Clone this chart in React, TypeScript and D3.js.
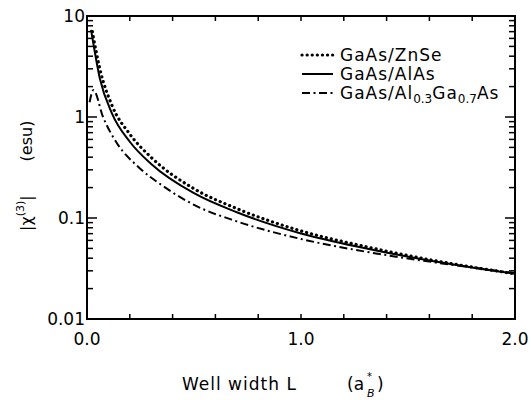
import React, { useEffect, useRef } from 'react'
import * as d3 from 'd3'

// curve readings: well width L (a_B*) vs |chi(3)| (esu)
const znseL = [0.025, 0.06, 0.117, 0.2, 0.3, 0.5, 0.7, 1.0, 1.3, 1.6, 2.0]
const znseV = [7.0, 3.0, 1.3, 0.677, 0.398, 0.195, 0.124, 0.0745, 0.0522, 0.0387, 0.028]

const alasL = [0.019, 0.06, 0.117, 0.2, 0.3, 0.5, 0.7, 1.0, 1.3, 1.6, 2.0]
const alasV = [7.3, 2.41, 1.08, 0.569, 0.343, 0.176, 0.114, 0.0703, 0.0502, 0.0379, 0.028]

const algaL = [0.012, 0.03, 0.075, 0.14, 0.24, 0.35, 0.5, 0.7, 1.0, 1.3, 1.6, 2.0]
const algaV = [1.4, 1.85, 1.0, 0.55, 0.32, 0.211, 0.135, 0.0926, 0.062, 0.0465, 0.037, 0.0285]

const xTickLabels = ['0.0', '1.0', '2.0']
const yTickLabels = ['0.01', '0.1', '1', '10']

const FONT = '"DejaVu Sans", sans-serif'

const Chart = () => {
    const svgRef = useRef()

    useEffect(() => {
        const svg = d3.select(svgRef.current)
        svg.selectAll('*').remove()

        const left = 87, right = 515, top = 16, bottom = 319

        const x = d3.scaleLinear().domain([0, 2]).range([left, right])
        const y = d3.scaleLog().domain([0.01, 10]).range([bottom, top])

        const g = svg.append('g')

        // frame
        g.append('rect')
            .attr('x', left).attr('y', top)
            .attr('width', right - left).attr('height', bottom - top)
            .attr('fill', 'none').attr('stroke', '#000').attr('stroke-width', 2)

        // x ticks every 0.2, inward on bottom and top
        const xt = d3.range(0, 2.01, 0.2).slice(1, -1)
        xt.forEach(v => {
            g.append('line').attr('x1', x(v)).attr('x2', x(v)).attr('y1', bottom).attr('y2', bottom - 5)
                .attr('stroke', '#000').attr('stroke-width', 1.5)
            g.append('line').attr('x1', x(v)).attr('x2', x(v)).attr('y1', top).attr('y2', top + 5)
                .attr('stroke', '#000').attr('stroke-width', 1.5)
        })

        // log ticks on left and right
        y.ticks().forEach(v => {
            const major = Math.abs(Math.log10(v) - Math.round(Math.log10(v))) < 1e-6
            const len = major ? 10 : 6
            g.append('line').attr('x1', left).attr('x2', left + len).attr('y1', y(v)).attr('y2', y(v))
                .attr('stroke', '#000').attr('stroke-width', 1.5)
            g.append('line').attr('x1', right).attr('x2', right - len).attr('y1', y(v)).attr('y2', y(v))
                .attr('stroke', '#000').attr('stroke-width', 1.5)
        })

        // tick labels
        g.selectAll('.yl').data(yTickLabels).join('text')
            .attr('x', left - 2).attr('y', d => y(+d)).attr('dy', '0.36em')
            .attr('text-anchor', 'end')
            .style('font', `17px ${FONT}`)
            .text(d => d)

        g.selectAll('.xl').data(xTickLabels).join('text')
            .attr('x', d => x(+d)).attr('y', bottom + 26)
            .attr('text-anchor', 'middle')
            .style('font', `17px ${FONT}`)
            .text(d => d)

        // curves
        const line = d3.line().x(d => x(d[0])).y(d => y(d[1])).curve(d3.curveMonotoneX)
        const series = [
            { L: znseL, V: znseV, dash: '0.1 5', width: 3.2, cap: 'round' },
            { L: alasL, V: alasV, dash: null, width: 2, cap: 'butt' },
            { L: algaL, V: algaV, dash: '8 3.5 2 3.5', width: 2, cap: 'butt' },
        ]
        series.forEach(s => {
            g.append('path')
                .attr('d', line(s.L.map((l, i) => [l, s.V[i]])))
                .attr('fill', 'none').attr('stroke', '#000')
                .attr('stroke-width', s.width)
                .attr('stroke-linecap', s.cap)
                .attr('stroke-dasharray', s.dash)
        })

        // legend
        const legend = g.append('g')
        const rows = [55, 74, 93]
        series.forEach((s, i) => {
            legend.append('line').attr('x1', 302).attr('x2', 333).attr('y1', rows[i]).attr('y2', rows[i])
                .attr('stroke', '#000').attr('stroke-width', s.width)
                .attr('stroke-linecap', s.cap)
                .attr('stroke-dasharray', s.dash)
        })
        const lt = (i) => legend.append('text').attr('x', 340).attr('y', rows[i]).attr('dy', '0.36em')
            .style('font', `17px ${FONT}`).style('letter-spacing', '1px')
        lt(0).text('GaAs/ZnSe')
        lt(1).text('GaAs/AlAs')
        const t3 = lt(2)
        t3.append('tspan').text('GaAs/Al')
        t3.append('tspan').attr('font-size', 12).attr('dy', 4).style('letter-spacing', '0px').text('0.3')
        t3.append('tspan').attr('dy', -4).text('Ga')
        t3.append('tspan').attr('font-size', 12).attr('dy', 4).style('letter-spacing', '0px').text('0.7')
        t3.append('tspan').attr('dy', -4).text('As')

        // x title
        g.append('text').attr('x', 182).attr('y', 390)
            .style('font', `17px ${FONT}`).style('letter-spacing', '1px').text('Well width L')
        g.append('text').attr('x', 347).attr('y', 390).style('font', `17px ${FONT}`).text('(a')
        g.append('text').attr('x', 367).attr('y', 380).style('font', `10px ${FONT}`).text('*')
        g.append('text').attr('x', 367).attr('y', 397).style('font', `italic 11px ${FONT}`).text('B')
        g.append('text').attr('x', 377).attr('y', 390).style('font', `17px ${FONT}`).text(')')

        // y title
        const ya = g.append('text')
            .attr('transform', 'translate(32,231) rotate(-90)')
            .style('font', `16px ${FONT}`)
        ya.append('tspan').text('|χ')
        ya.append('tspan').attr('font-size', 11).attr('dy', -8).text('(3)')
        ya.append('tspan').attr('dy', 8).text('|')
        ya.append('tspan').attr('dx', 34).text('(esu)')
    }, [])

    return (
        <svg ref={svgRef} width={531} height={400}
            style={{ position: 'absolute', left: 0, top: 0, background: '#fff' }} />
    )
}

export default function App() {
    return <Chart />
}
